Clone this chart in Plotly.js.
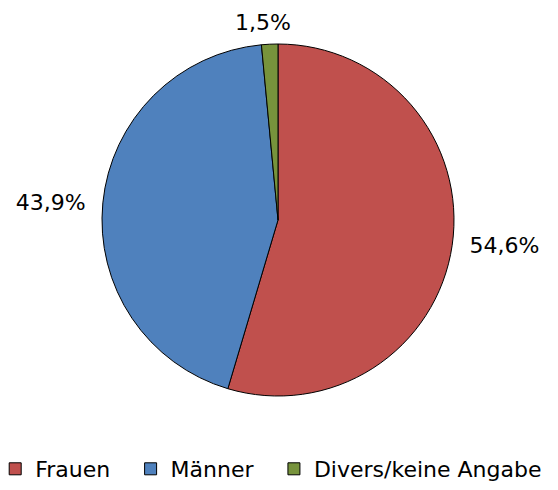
<!DOCTYPE html>
<html>
<head>
<meta charset="utf-8">
<script src="https://cdn.plot.ly/plotly-3.0.1.min.js"></script>
<style>html,body{margin:0;padding:0;background:#fff;}#chart{width:558px;height:490px;}</style>
</head>
<body>
<div id="chart"></div>
<script>
const categories = ["Frauen", "Männer", "Divers/keine Angabe"];
const shares = [54.6, 43.9, 1.5];
const colors = ["#C0504D", "#4F81BD", "#77933C"];

// pie placement (pixels in the 558x490 figure)
const W = 558, H = 490;
const CX = 278, CY = 220, R = 176;

const fmt = v => v.toFixed(1).replace(".", ",") + "%";
const labelTemplates = [
  "\u2002%{value:.1f}%",
  "%{value:.1f}%\u2002",
  ""
];
// legend entries: same category names, with extra trailing gap between entries
const legendNames = categories.map((c, i) => i < categories.length - 1 ? c + "\u2002\u2009" : c);

const trace = {
  type: "pie",
  labels: legendNames,
  values: shares,
  sort: false,
  direction: "clockwise",
  rotation: 0,
  marker: { colors: colors, line: { color: "#000000", width: 1 } },
  textposition: "outside",
  texttemplate: labelTemplates,
  textfont: { family: "DejaVu Sans, Verdana, sans-serif", size: 22, color: "#000000" },
  hoverinfo: "none",
  domain: { x: [(CX - R) / W, (CX + R) / W], y: [(H - CY - R) / H, (H - CY + R) / H] }
};

// label of the small slice, placed above its mid-angle
const total = shares.reduce((a, b) => a + b, 0);
const before = shares.slice(0, 2).reduce((a, b) => a + b, 0);
const theta = 2 * Math.PI * (before + shares[2] / 2) / total;
const LR = R + 22;
const annX = (CX + LR * Math.sin(theta) - 6) / W;
const annY = (H - (CY - LR * Math.cos(theta))) / H;

const layout = {
  width: W,
  height: H,
  separators: ",.",
  margin: { l: 0, r: 0, t: 0, b: 0, autoexpand: false },
  paper_bgcolor: "#ffffff",
  plot_bgcolor: "#ffffff",
  font: { family: "DejaVu Sans, Verdana, sans-serif", size: 22, color: "#000000" },
  showlegend: true,
  legend: {
    orientation: "h",
    x: 0.486,
    xanchor: "center",
    xref: "container",
    yref: "container",
    y: -0.019,
    yanchor: "bottom",
    font: { size: 22, color: "#000000" },
    itemwidth: 30,
    tracegroupgap: 0
  },
  annotations: [{
    xref: "paper", yref: "paper",
    x: annX, y: annY,
    xanchor: "center", yanchor: "middle",
    text: fmt(shares[2]),
    showarrow: false,
    font: { family: "DejaVu Sans, Verdana, sans-serif", size: 22, color: "#000000" }
  }]
};

Plotly.newPlot("chart", [trace], layout, { displayModeBar: false, staticPlot: true });
</script>
</body>
</html>
